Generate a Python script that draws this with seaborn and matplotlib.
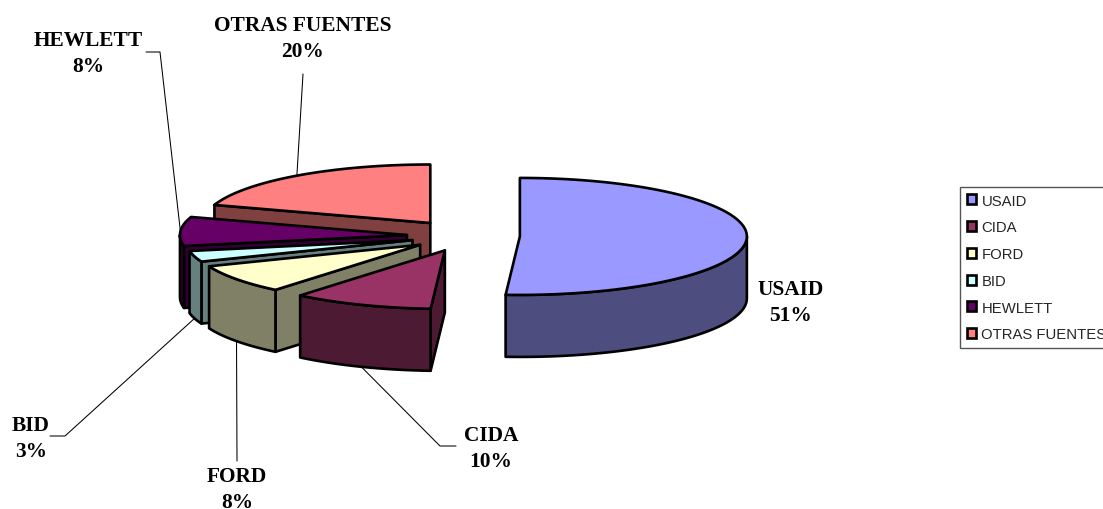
import numpy as np
import matplotlib
matplotlib.use('Agg')
import matplotlib.pyplot as plt
from matplotlib.patches import Patch
import seaborn as sns

# data
categories = ['USAID', 'CIDA', 'FORD', 'BID', 'HEWLETT', 'OTRAS FUENTES']
shares = [51, 10, 8, 3, 8, 20]
explode = [0.233, 0.265, 0.255, 0.25, 0.265, 0.275]
top_colors = ['#9999FF', '#993366', '#FFFFCC', '#CCFFFF', '#660066', '#FF8080']
side_colors = ['#4D4D80', '#4D1A33', '#808066', '#668080', '#330033', '#804040']

# pie layout in pixels
cx, cy = 467, 237
rx, ry = 227, 58.5
depth = 62
edge_lw = 1.9

# label centre and leader elbow points
label_pos = [(791, 303), (491, 449), (237, 490), (31, 439), (88, 54), (303, 39)]
leader_via = [None, [(440, 447), (456, 447)], [(237, 462)], [(65, 437), (50, 437)],
              [(160, 53), (146, 53)], [(303, 75)]]

sns.set_theme(style='white')
plt.rcParams['font.family'] = ['Liberation Serif', 'DejaVu Serif']

fig = plt.figure(figsize=(11.03, 5.10), dpi=100)
ax = fig.add_axes([0, 0, 1, 1])
ax.set_xlim(0, 1103)
ax.set_ylim(510, 0)
ax.axis('off')

ends = np.cumsum(shares) / 100 * 360
starts = ends - np.array(shares) / 100 * 360


def rim(ox, oy, a):
    return ox + rx * np.sin(a), oy - ry * np.cos(a)


def face(xs, ys, color, z):
    ax.fill(xs, ys, facecolor=color, edgecolor='black', linewidth=edge_lw,
            joinstyle='round', zorder=z)


# back slices first so the front ones cover them
for i in reversed(range(len(shares))):
    t1, t2 = np.radians(starts[i]), np.radians(ends[i])
    mid = (t1 + t2) / 2
    ox = cx + explode[i] * rx * np.sin(mid)
    oy = cy - explode[i] * rx * 0.2575 * np.cos(mid)
    z = 10 + (len(shares) - i)

    # cut face turned towards the viewer
    if np.sin(t1) < -1e-6:
        px, py = rim(ox, oy, t1)
        face([ox, px, px, ox], [oy, py, py + depth, oy + depth], side_colors[i], z)

    # front part of the outer wall
    lo, hi = max(t1, np.pi / 2), min(t2, 3 * np.pi / 2)
    if hi > lo:
        a = np.linspace(lo, hi, 60)
        x, y = rim(ox, oy, a)
        face(np.r_[x, x[::-1]], np.r_[y, y[::-1] + depth], side_colors[i], z)

    a = np.linspace(t1, t2, 120)
    x, y = rim(ox, oy, a)
    face(np.r_[ox, x], np.r_[oy, y], top_colors[i], z)

    # leader line and label
    ax_, ay_ = rim(ox, oy, mid)
    if np.cos(mid) < 0:
        ay_ += depth
    if leader_via[i]:
        pts = [(ax_, ay_)] + leader_via[i]
        ax.plot(*zip(*pts), color='black', lw=0.75, zorder=5)
    ax.text(label_pos[i][0], label_pos[i][1], f'{categories[i]}\n{shares[i]}%',
            ha='center', va='center', fontsize=15.4, fontweight='bold',
            color='black', linespacing=1.44, zorder=30)

handles = [Patch(facecolor=c, edgecolor='black', linewidth=1.9) for c in top_colors]
leg = ax.legend(handles, categories, loc='upper left', bbox_to_anchor=(960 / 1103, 1 - 188 / 510),
                borderaxespad=0, frameon=True, fancybox=False, edgecolor='#555555',
                framealpha=1, handlelength=0.66, handleheight=0.66, handletextpad=0.33,
                labelspacing=0.855, borderpad=0.45,
                prop={'family': 'Liberation Sans', 'size': 10.7})
leg.get_frame().set_linewidth(1)
leg.set_zorder(40)

fig.savefig('out.png', dpi=100)
